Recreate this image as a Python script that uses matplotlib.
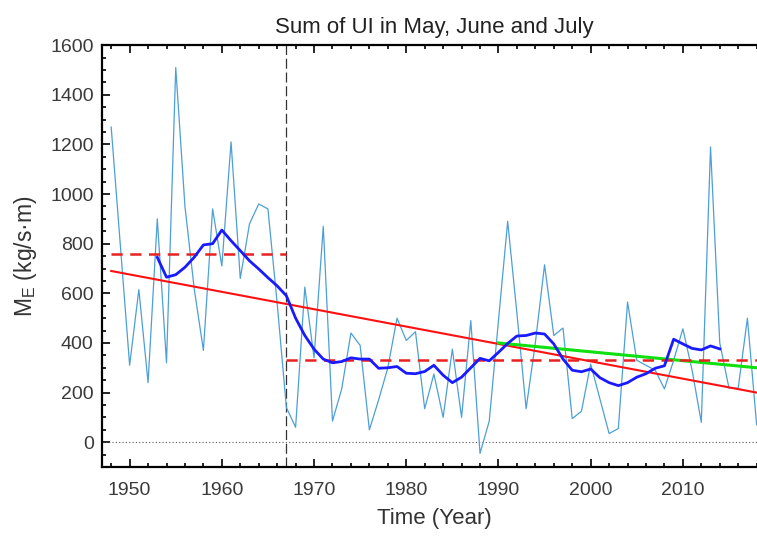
import numpy as np
import matplotlib
matplotlib.use("Agg")
import matplotlib.pyplot as plt
from matplotlib.ticker import MultipleLocator

plt.rcParams['font.family'] = ['Liberation Sans', 'DejaVu Sans']
plt.rcParams['mathtext.default'] = 'regular'

# annual values
years = np.arange(1948, 2019)
ui_sum = [1270, 790, 310, 615, 240, 900, 320, 1510, 950, 620,
          370, 940, 710, 1210, 660, 880, 960, 940, 560, 140,
          60, 625, 340, 870, 85, 215, 440, 390, 50, 170,
          300, 500, 410, 445, 135, 275, 100, 375, 100, 490,
          -45, 85, 490, 890, 520, 135, 400, 715, 430, 460,
          95, 125, 315, 175, 35, 55, 565, 330, 310, 290,
          215, 330, 457, 290, 80, 1190, 400, 218, 218, 500,
          70]

# running mean (thick blue)
ma_years = np.arange(1953, 2015)
ma_vals = [745, 665, 675, 705, 745, 795, 800, 855, 812, 772,
           731, 698, 663, 630, 590, 500, 430, 375, 335, 320,
           325, 340, 335, 335, 298, 300, 305, 278, 276, 285,
           310, 270, 240, 262, 300, 338, 328, 362, 398, 428,
           430, 440, 436, 396, 335, 290, 284, 295, 260, 240,
           228, 240, 262, 276, 298, 308, 415, 396, 378, 372,
           388, 376]

# period means and trends
split_year = 1967
mean_before = 760
mean_after = 330
trend_x = [1948, 2018]
trend_y = [690, 200]
trend2_x = [1990, 2018]
trend2_y = [400, 300]

fig = plt.figure(figsize=(7.57, 5.36), dpi=100)
ax = fig.add_axes([0.1347, 0.1287, 0.877, 0.787])

ax.axhline(0, color='#555555', lw=0.8, ls=(0, (1, 2)))
ax.axvline(split_year, color='#333333', lw=0.9, ls=(0, (8, 3)))

ax.plot(years, ui_sum, color='#4d9fd6', lw=0.9)
ax.plot(trend_x, trend_y, color='#ff1010', lw=1.5)
ax.plot(trend2_x, trend2_y, color='#10e010', lw=2.2)
ax.plot([1948, split_year], [mean_before, mean_before], color='#e82020', lw=1.8, ls=(0, (4.5, 3)))
ax.plot([split_year, 2018], [mean_after, mean_after], color='#e82020', lw=1.8, ls=(0, (4.5, 3)))
ax.plot(ma_years, ma_vals, color='#1a1aff', lw=2.0)

ax.set_xlim(1947, 2019)
ax.set_ylim(-100, 1600)
ax.xaxis.set_major_locator(MultipleLocator(10))
ax.xaxis.set_minor_locator(MultipleLocator(2))
ax.yaxis.set_major_locator(MultipleLocator(200))
ax.yaxis.set_minor_locator(MultipleLocator(50))
ax.tick_params(which='both', direction='in', top=True, right=True,
               labelsize=14, labelcolor='#3a3a3a', width=1.2)
ax.tick_params(which='major', length=6)
ax.tick_params(which='minor', length=3)
ax.tick_params(axis='x', which='major', pad=11)
ax.tick_params(axis='y', which='major', pad=6)
for s in ax.spines.values():
    s.set_linewidth(1.6)

ax.set_title('Sum of UI in May, June and July', fontsize=16, color='#222222', pad=9)
ax.set_xlabel('Time (Year)', fontsize=16, color='#333333', labelpad=6)
ax.set_ylabel('M$_{E}$ (kg/s·m)', fontsize=16.5, color='#333333', labelpad=8)

fig.savefig('out.png', dpi=100)
